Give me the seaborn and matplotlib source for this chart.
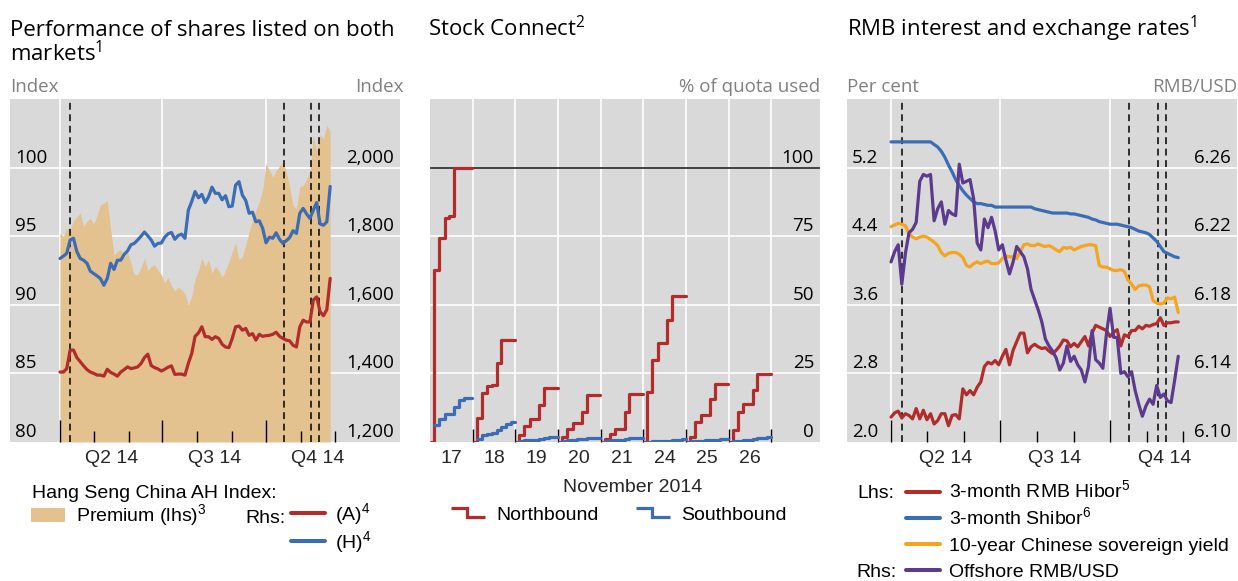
import matplotlib
matplotlib.use("Agg")
import numpy as np
import pandas as pd
import matplotlib.pyplot as plt
import matplotlib.dates as mdates
from matplotlib.lines import Line2D
from matplotlib.patches import Patch
from matplotlib.legend_handler import HandlerBase
from matplotlib.transforms import ScaledTranslation
import seaborn as sns

# ------------------------------------------------------------------ data
# Panel 1 / Panel 3: observations every 3 calendar days from 1 April 2014
series_start = "2014-04-01"
series_step = "3D"

ah_premium = [95.2, 95.0, 95.6, 95.5, 96.1, 96.4, 96.7, 95.7, 96.1, 96.3,
              95.9, 96.5, 97.3, 97.4, 97.6, 95.5, 93.6, 93.9, 94.0, 93.5,
              93.9, 93.0, 92.2, 92.2, 92.7, 93.4, 92.5, 92.8, 92.9, 92.5,
              92.2, 91.6, 92.0, 91.4, 91.0, 91.3, 91.1, 90.8, 90.0, 90.6,
              91.9, 92.5, 93.4, 92.8, 93.3, 92.3, 92.8, 92.5, 92.0, 92.5,
              93.1, 93.9, 94.5, 93.3, 93.5, 94.4, 95.3, 96.2, 96.9, 97.5,
              98.4, 100.3, 99.8, 99.3, 99.8, 100.1, 100.4, 99.7, 98.6, 97.2,
              97.0, 98.6, 98.7, 99.1, 99.8, 102.3, 101.2, 102.4, 102.1, 103.1,
              102.6]
ah_a_index = [1404, 1404, 1414, 1468, 1468, 1446, 1434, 1422, 1411, 1404,
              1400, 1395, 1395, 1392, 1412, 1403, 1398, 1392, 1404, 1411,
              1419, 1414, 1416, 1419, 1429, 1446, 1456, 1423, 1417, 1413,
              1407, 1412, 1418, 1422, 1397, 1398, 1398, 1395, 1429, 1458,
              1508, 1518, 1536, 1507, 1507, 1499, 1507, 1502, 1485, 1477,
              1475, 1502, 1536, 1538, 1526, 1531, 1511, 1516, 1497, 1514,
              1508, 1510, 1511, 1514, 1520, 1508, 1502, 1497, 1495, 1482,
              1477, 1536, 1555, 1550, 1550, 1614, 1623, 1580, 1568, 1586,
              1677]
ah_h_index = [1735, 1742, 1750, 1789, 1794, 1755, 1735, 1730, 1721, 1698,
              1691, 1684, 1676, 1657, 1677, 1721, 1703, 1730, 1730, 1747,
              1757, 1775, 1779, 1789, 1800, 1812, 1801, 1789, 1771, 1779,
              1780, 1797, 1807, 1811, 1791, 1802, 1806, 1794, 1876, 1901,
              1930, 1912, 1922, 1898, 1915, 1943, 1925, 1925, 1906, 1918,
              1886, 1888, 1949, 1959, 1920, 1904, 1867, 1870, 1842, 1845,
              1823, 1781, 1797, 1794, 1810, 1791, 1779, 1787, 1796, 1816,
              1808, 1867, 1881, 1865, 1852, 1876, 1898, 1836, 1832, 1842,
              1945]

hibor_3m = [2.29, 2.34, 2.36, 2.28, 2.33, 2.31, 2.27, 2.39, 2.27, 2.37,
            2.26, 2.33, 2.21, 2.25, 2.33, 2.33, 2.19, 2.31, 2.32, 2.27,
            2.62, 2.55, 2.60, 2.55, 2.64, 2.70, 2.88, 2.93, 2.91, 2.95,
            2.90, 3.00, 3.08, 2.90, 3.07, 3.17, 3.27, 3.27, 3.04, 3.11,
            3.14, 3.11, 3.09, 3.10, 3.06, 3.03, 3.07, 3.12, 3.19, 3.18,
            3.11, 3.15, 3.11, 3.17, 3.23, 3.12, 3.27, 3.36, 3.34, 3.32,
            3.30, 3.23, 3.28, 3.31, 3.12, 3.25, 3.23, 3.30, 3.30, 3.35,
            3.32, 3.36, 3.35, 3.37, 3.38, 3.45, 3.36, 3.39, 3.39, 3.40,
            3.40]
shibor_3m = [5.50, 5.50, 5.50, 5.50, 5.50, 5.50, 5.50, 5.50, 5.50, 5.50,
             5.50, 5.50, 5.47, 5.44, 5.39, 5.32, 5.23, 5.15, 5.06, 4.99,
             4.93, 4.88, 4.84, 4.80, 4.78, 4.78, 4.77, 4.76, 4.76, 4.74,
             4.74, 4.74, 4.74, 4.74, 4.74, 4.74, 4.74, 4.74, 4.74, 4.74,
             4.72, 4.71, 4.70, 4.69, 4.68, 4.67, 4.67, 4.67, 4.67, 4.67,
             4.66, 4.66, 4.65, 4.64, 4.63, 4.62, 4.60, 4.59, 4.57, 4.56,
             4.55, 4.54, 4.54, 4.54, 4.53, 4.52, 4.51, 4.50, 4.48, 4.46,
             4.45, 4.44, 4.42, 4.38, 4.34, 4.28, 4.22, 4.20, 4.18, 4.16,
             4.15]
cgb_10y = [4.51, 4.53, 4.55, 4.54, 4.52, 4.43, 4.39, 4.37, 4.39, 4.40,
           4.39, 4.36, 4.33, 4.29, 4.21, 4.17, 4.20, 4.21, 4.21, 4.19,
           4.15, 4.06, 4.04, 4.08, 4.10, 4.08, 4.10, 4.11, 4.08, 4.08,
           4.09, 4.14, 4.17, 4.16, 4.16, 4.14, 4.22, 4.30, 4.31, 4.29,
           4.29, 4.31, 4.29, 4.28, 4.29, 4.27, 4.24, 4.22, 4.27, 4.26,
           4.27, 4.24, 4.26, 4.28, 4.29, 4.30, 4.30, 4.29, 4.06, 4.04,
           4.04, 4.02, 4.00, 4.00, 4.01, 3.99, 3.89, 3.84, 3.78, 3.82,
           3.83, 3.83, 3.81, 3.65, 3.62, 3.61, 3.62, 3.68, 3.67, 3.69,
           3.51]
cnh_usd = [6.205, 6.211, 6.215, 6.192, 6.210, 6.222, 6.224, 6.228, 6.252, 6.256,
           6.255, 6.256, 6.229, 6.236, 6.240, 6.227, 6.235, 6.233, 6.232, 6.262,
           6.251, 6.252, 6.253, 6.242, 6.216, 6.212, 6.230, 6.225, 6.231, 6.223,
           6.212, 6.215, 6.206, 6.198, 6.205, 6.214, 6.211, 6.208, 6.201, 6.189,
           6.183, 6.177, 6.170, 6.160, 6.156, 6.153, 6.149, 6.142, 6.146, 6.156,
           6.147, 6.150, 6.145, 6.142, 6.135, 6.144, 6.165, 6.148, 6.146, 6.143,
           6.163, 6.178, 6.161, 6.161, 6.140, 6.141, 6.138, 6.141, 6.130, 6.122,
           6.115, 6.121, 6.125, 6.122, 6.133, 6.126, 6.128, 6.124, 6.123, 6.136,
           6.150]

event_dates = ["2014-04-10", "2014-10-17", "2014-11-10", "2014-11-17"]
quarter_starts = ["2014-04-01", "2014-07-01", "2014-10-01"]
month_starts = ["2014-05-01", "2014-06-01", "2014-08-01", "2014-09-01",
                "2014-11-01", "2014-12-01"]
quarters = ["2014Q2", "2014Q3", "2014Q4"]
quarter_labels = ["Q2 14", "Q3 14", "Q4 14"]

# Panel 2: Stock Connect, cumulative % of daily quota used, intraday
connect_days = ["17", "18", "19", "20", "21", "24", "25", "26"]
intraday_marks = [0.09, 0.21, 0.34, 0.45, 0.56, 0.67, 0.79, 0.90]
session_open, session_close = 0.02, 0.99
northbound = [
    [62.7, 74.4, 81.8, 82.5, 100.0, 100.0, 100.0, 100.0],
    [8.8, 17.9, 20.3, 20.7, 28.8, 37.1, 37.1, 37.1],
    [2.4, 5.7, 8.2, 8.2, 13.4, 19.8, 19.8, 19.8],
    [1.8, 4.9, 6.9, 6.9, 11.0, 17.0, 17.0, 17.0],
    [1.2, 3.0, 4.9, 4.9, 11.0, 17.6, 17.6, 17.6],
    [18.2, 29.8, 36.1, 36.1, 44.4, 53.2, 53.2, 53.2],
    [2.0, 7.3, 9.7, 9.7, 15.8, 21.3, 21.3, 21.3],
    [4.5, 11.0, 14.0, 14.0, 18.9, 24.9, 24.9, 24.9],
]
southbound = [
    [6.1, 8.5, 10.3, 10.3, 12.8, 15.2, 16.1, 16.1],
    [1.2, 2.4, 2.8, 3.2, 4.3, 5.5, 6.4, 7.3],
    [0.4, 0.6, 0.8, 0.9, 1.2, 1.5, 1.8, 1.9],
    [0.5, 0.8, 0.9, 1.0, 1.2, 1.4, 1.6, 1.6],
    [0.4, 0.6, 0.8, 0.9, 1.0, 1.3, 1.5, 1.5],
    [0.1, 0.2, 0.3, 0.4, 0.5, 0.7, 0.9, 1.0],
    [0.3, 0.4, 0.5, 0.6, 0.7, 0.8, 1.0, 1.0],
    [0.3, 0.5, 0.7, 0.8, 1.0, 1.3, 1.6, 1.8],
]

# ------------------------------------------------------------------ style
BG = "#D9D9D9"
TAN = "#E3C28F"
RED = "#B22C2C"
BLUE = "#3A6DB5"
ORANGE = "#F4A41E"
PURPLE = "#5C3A8E"
GREY_TXT = "#808080"

sns.set_theme(style="white")
plt.rcParams["font.family"] = ["Open Sans", "DejaVu Sans"]
plt.rcParams["text.color"] = "black"

W, H, DPI = 1238, 581, 100
fig = plt.figure(figsize=(W / DPI, H / DPI), dpi=DPI)
fig.patch.set_facecolor("white")

TITLE_FS = 16
TICK_FS = 13.5
UNIT_FS = 13.5
LEG = {"family": "Liberation Sans", "size": 14}
LINE_W = 2.3
KEY_W = 2.9
ROW_H = 1.3


def fx(px):
    return px / W


def fy(py):
    return 1 - py / H


def make_axes(left, top, right, bottom):
    ax = fig.add_axes([fx(left), fy(bottom), (right - left) / W, (bottom - top) / H])
    ax.set_facecolor(BG)
    for s in ax.spines.values():
        s.set_visible(False)
    ax.set_axisbelow(True)
    return ax


def style_yticks(ax, ticks, labels, side):
    ax.set_yticks(ticks, labels=labels)
    if side == "left":
        ax.tick_params(axis="y", which="both", left=False, right=False,
                       labelleft=True, labelright=False, length=0, pad=0,
                       labelsize=TICK_FS, labelcolor="black")
        dx, ha = 5, "left"
    else:
        ax.tick_params(axis="y", which="both", left=False, right=False,
                       labelleft=False, labelright=True, length=0, pad=0,
                       labelsize=TICK_FS, labelcolor="black")
        dx, ha = -6, "right"
    off = ScaledTranslation(dx / DPI, 5 / DPI, fig.dpi_scale_trans)
    for lab in ax.get_yticklabels():
        lab.set_horizontalalignment(ha)
        lab.set_verticalalignment("baseline")
        lab.set_transform(lab.get_transform() + off)


def hgrid(ax):
    ax.grid(axis="y", which="major", color="white", lw=1.2)
    gl = ax.yaxis.get_gridlines()
    if len(gl):
        gl[0].set_visible(False)


def date_axis(ax, axr, start_pad, end_pad):
    t0 = mdates.date2num(pd.Timestamp(series_start))
    ax.set_xlim(t0 - start_pad, t0 + end_pad)
    ax.set_xticks(pd.to_datetime(quarter_starts))
    ax.set_xticks(pd.to_datetime(month_starts), minor=True)
    ax.tick_params(axis="x", which="both", length=0, bottom=False, labelbottom=False)
    ax.grid(axis="x", which="major", color="white", lw=1.2)
    axr.xaxis.set_visible(True)
    axr.tick_params(axis="x", which="major", direction="in", length=15.6, width=1.0,
                    color="black", bottom=True, top=False, labelbottom=False)
    axr.tick_params(axis="x", which="minor", direction="in", length=7.8, width=1.0,
                    color="black", bottom=True, top=False, labelbottom=False)
    axr.set_xlabel("")
    sec = ax.secondary_xaxis("bottom")
    per = pd.PeriodIndex(quarters, freq="Q")
    mids = [mdates.date2num(p.start_time + (p.end_time - p.start_time) / 2) for p in per]
    sec.set_xticks(mids, labels=quarter_labels, fontfamily="Liberation Sans", fontsize=14)
    sec.tick_params(axis="x", length=0, pad=5.5)
    for s in sec.spines.values():
        s.set_visible(False)


def unit_labels(ax, left_text, right_text, right_px_over=0):
    y = 1 + 6.5 / 343
    if left_text:
        ax.text(0, y, left_text, transform=ax.transAxes, ha="left", va="baseline",
                color=GREY_TXT, fontsize=UNIT_FS)
    if right_text:
        ax.text(1 + right_px_over / 390, y, right_text, transform=ax.transAxes,
                ha="right", va="baseline", color=GREY_TXT, fontsize=UNIT_FS)


def sup(n):
    return "$^{\\mathregular{" + str(n) + "}}$"


def row_legend(ax, handle, label, x_px, baseline_px, textpad):
    """One legend row whose text baseline sits at baseline_px."""
    leg = ax.legend(handles=[handle], labels=[label], loc="lower left",
                    bbox_to_anchor=(fx(x_px), fy(baseline_px + 4.1)),
                    bbox_transform=fig.transFigure, frameon=False, borderpad=0,
                    borderaxespad=0, handlelength=1.75, handletextpad=textpad, prop=LEG)
    ax.legend_ = None          # keep it only once, as a plain artist
    ax.add_artist(leg)
    return leg


dates = pd.date_range(series_start, periods=len(ah_premium), freq=series_step)

# ------------------------------------------------------------------ panel 1
ax1 = make_axes(10, 99, 400, 442)
d1 = pd.DataFrame({"date": dates, "Premium": ah_premium, "A": ah_a_index, "H": ah_h_index})
ax1.fill_between(d1["date"], 80, d1["Premium"], color=TAN, lw=0, zorder=2)
for d in event_dates:
    ax1.axvline(pd.Timestamp(d), color="black", lw=1.1, ls=(0, (4.5, 3.0)), zorder=3)
ax1.set_ylim(80, 105)
ax1r = ax1.twinx()
long1 = d1.melt(id_vars="date", value_vars=["A", "H"], var_name="series", value_name="value")
sns.lineplot(data=long1, x="date", y="value", hue="series", palette={"A": RED, "H": BLUE},
             estimator=None, lw=LINE_W, legend=False, ax=ax1r)
ax1r.set_ylim(1200, 2200)
for s in ax1r.spines.values():
    s.set_visible(False)
ax1.set_xlabel(""); ax1.set_ylabel(""); ax1r.set_ylabel("")
date_axis(ax1, ax1r, 44.4, 302)
style_yticks(ax1, [80, 85, 90, 95, 100], ["80", "85", "90", "95", "100"], "left")
style_yticks(ax1r, [1200, 1400, 1600, 1800, 2000],
             [f"{v:,}" for v in [1200, 1400, 1600, 1800, 2000]], "right")
hgrid(ax1)
unit_labels(ax1, "Index", "Index", right_px_over=4)

fig.text(fx(10), fy(36), "Performance of shares listed on both", fontsize=TITLE_FS, va="baseline")
fig.text(fx(10), fy(61), "markets" + sup(1), fontsize=TITLE_FS, va="baseline")

fig.text(fx(32), fy(497.5), "Hang Seng China AH Index:", va="baseline",
         fontfamily=LEG["family"], fontsize=LEG["size"])
fig.text(fx(245), fy(522.7), "Rhs:", va="baseline", fontfamily=LEG["family"], fontsize=LEG["size"])
ax1.legend(handles=[Patch(facecolor=TAN, edgecolor="none")],
           labels=["Premium (lhs)" + sup(3)],
           loc="upper left", bbox_to_anchor=(fx(31), fy(502)), bbox_transform=fig.transFigure,
           frameon=False, borderpad=0, borderaxespad=0, handlelength=1.75,
           handleheight=0.72, handletextpad=0.57, prop=LEG)
ax1r.legend(handles=[Line2D([], [], color=RED, lw=KEY_W), Line2D([], [], color=BLUE, lw=KEY_W)],
            labels=["(A)" + sup(4), "(H)" + sup(4)],
            loc="upper left", bbox_to_anchor=(fx(291), fy(501.5)), bbox_transform=fig.transFigure,
            frameon=False, borderpad=0, borderaxespad=0, handlelength=1.75, handleheight=ROW_H,
            handletextpad=0.51, labelspacing=0.07, prop=LEG)

# ------------------------------------------------------------------ panel 2
ax2 = make_axes(430, 99, 820, 442)


def steps_frame(values, with_open):
    rows = []
    for i, (day, vals) in enumerate(zip(connect_days, values)):
        if with_open:
            xs = [i + session_open] + [i + m for m in intraday_marks] + [i + session_close]
            ys = [0.0] + list(vals) + [vals[-1]]
        else:
            xs = [i + m for m in intraday_marks] + [i + session_close]
            ys = list(vals) + [vals[-1]]
        rows += [{"day": day, "x": x, "pct": y} for x, y in zip(xs, ys)]
    return pd.DataFrame(rows)


nb = steps_frame(northbound, True)
sb = steps_frame(southbound, False)
ax2.axhline(100, color="#222222", lw=1.2, zorder=1.5)
sns.lineplot(data=nb, x="x", y="pct", units="day", estimator=None, sort=False, color=RED,
             lw=LINE_W, drawstyle="steps-post", legend=False, ax=ax2)
sns.lineplot(data=sb, x="x", y="pct", units="day", estimator=None, sort=False, color=BLUE,
             lw=LINE_W, drawstyle="steps-post", legend=False, ax=ax2)
ax2.set_xlim(0, 9.14)
ax2.set_ylim(0, 125)
ax2.set_xticks(range(1, len(connect_days) + 1))
ax2.set_xticks([i + 0.5 for i in range(len(connect_days))], labels=connect_days, minor=True,
               fontfamily="Liberation Sans", fontsize=14)
ax2.tick_params(axis="x", which="major", direction="in", length=9.4, width=1.0, color="black",
                bottom=True, labelbottom=False)
ax2.tick_params(axis="x", which="minor", length=0, bottom=True, labelbottom=True, pad=5.5)
ax2.grid(axis="x", which="major", color="white", lw=1.2)
ax2.yaxis.tick_right()
style_yticks(ax2, [0, 25, 50, 75, 100], ["0", "25", "50", "75", "100"], "right")
hgrid(ax2)
ax2.set_ylabel("")
ax2.set_xlabel("November 2014", fontfamily="Liberation Sans", fontsize=14)
ax2.xaxis.set_label_coords((632.7 - 430) / 390, -(492.3 - 442) / 343)
ax2.xaxis.label.set_va("baseline")
unit_labels(ax2, None, "% of quota used")
fig.text(fx(428.3), fy(36), "Stock Connect" + sup(2), fontsize=TITLE_FS, va="baseline")


class StepHandler(HandlerBase):
    def create_artists(self, legend, orig_handle, xdescent, ydescent, width, height,
                       fontsize, trans):
        x0 = -xdescent
        x1 = x0 + width
        xm = x0 + 0.47 * width
        yc = -ydescent + height / 2
        h = 0.24 * fontsize
        ln = Line2D([x0, xm, xm, x1], [yc + h, yc + h, yc - h, yc - h],
                    color=orig_handle.get_color(), lw=orig_handle.get_linewidth(),
                    solid_joinstyle="miter", solid_capstyle="butt", transform=trans)
        return [ln]


ax2.legend(handles=[Line2D([], [], color=RED, lw=LINE_W), Line2D([], [], color=BLUE, lw=LINE_W)],
           labels=["Northbound", "Southbound"], ncol=2, handler_map={Line2D: StepHandler()},
           loc="upper left", bbox_to_anchor=(fx(451), fy(506)), bbox_transform=fig.transFigure,
           frameon=False, borderpad=0, borderaxespad=0, handlelength=1.75,
           handletextpad=0.57, columnspacing=1.92, prop=LEG)

# ------------------------------------------------------------------ panel 3
ax3 = make_axes(847, 99, 1237, 442)
d3 = pd.DataFrame({"date": dates, "Hibor": hibor_3m, "Shibor": shibor_3m, "CGB": cgb_10y,
                   "CNH": cnh_usd})
for d in event_dates:
    ax3.axvline(pd.Timestamp(d), color="black", lw=1.1, ls=(0, (4.5, 3.0)), zorder=1.8)
long3 = d3.melt(id_vars="date", value_vars=["Hibor", "Shibor", "CGB"], var_name="series",
                value_name="value")
sns.lineplot(data=long3, x="date", y="value", hue="series",
             palette={"Hibor": RED, "Shibor": BLUE, "CGB": ORANGE},
             estimator=None, lw=LINE_W, legend=False, ax=ax3)
ax3.set_ylim(2.0, 6.0)
ax3r = ax3.twinx()
sns.lineplot(data=d3, x="date", y="CNH", color=PURPLE, estimator=None, lw=LINE_W,
             legend=False, ax=ax3r)
ax3r.set_ylim(6.10, 6.30)
for s in ax3r.spines.values():
    s.set_visible(False)
ax3.set_xlabel(""); ax3.set_ylabel(""); ax3r.set_ylabel("")
date_axis(ax3, ax3r, 36.8, 289.1)
l3 = [2.0, 2.8, 3.6, 4.4, 5.2]
r3 = [6.10, 6.14, 6.18, 6.22, 6.26]
style_yticks(ax3, l3, [f"{v:.1f}" for v in l3], "left")
style_yticks(ax3r, r3, [f"{v:.2f}" for v in r3], "right")
hgrid(ax3)
unit_labels(ax3, "Per cent", "RMB/USD")
fig.text(fx(846.7), fy(36), "RMB interest and exchange rates" + sup(1), fontsize=TITLE_FS,
         va="baseline")

fig.text(fx(857.7), fy(498.3), "Lhs:", va="baseline", fontfamily=LEG["family"], fontsize=LEG["size"])
fig.text(fx(856.7), fy(576.7), "Rhs:", va="baseline", fontfamily=LEG["family"], fontsize=LEG["size"])
p3_colors = [RED, BLUE, ORANGE, PURPLE]
p3_labels = ["3-month RMB Hibor" + sup(5), "3-month Shibor" + sup(6),
             "10-year Chinese sovereign yield", "Offshore RMB/USD"]
p3_baselines = [498.3, 525.0, 551.0, 576.7]
for c, lab, b in zip(p3_colors, p3_labels, p3_baselines):
    row_legend(ax3, Line2D([], [], color=c, lw=KEY_W), lab, 906, b, 0.46)

fig.savefig("out.png", dpi=DPI)
